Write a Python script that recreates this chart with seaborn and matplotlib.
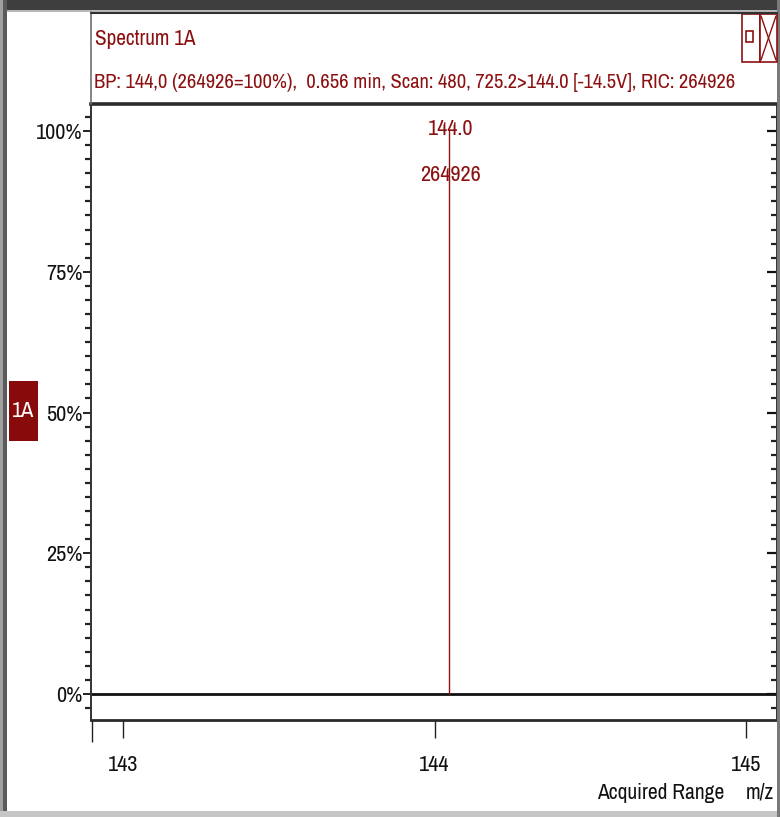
import matplotlib
matplotlib.use("Agg")
import matplotlib.pyplot as plt
from matplotlib import font_manager
from matplotlib.patches import Rectangle
from matplotlib.lines import Line2D
from matplotlib.ticker import FixedLocator, NullFormatter
import numpy as np
import pandas as pd
import seaborn as sns

# ---- data -------------------------------------------------------------
peak_mz = [144.048]
peak_counts = [264926]
x_ticks = [143, 144, 145]
y_major = [0, 25, 50, 75, 100]
y_tick_labels = ["0%", "25%", "50%", "75%", "100%"]
title_line = "Spectrum 1A"
info_line = ("BP: 144,0 (264926=100%),  0.656 min, Scan: 480, 725.2>144.0 "
             "[-14.5V], RIC: 264926")
trace_tag = "1A"
x_caption = "Acquired Range"
x_unit = "m/z"

# ---- style ------------------------------------------------------------
sns.set_theme(style="white")

# prefer a narrow/condensed face; otherwise shrink Liberation Sans
family, stretch, FS = "Liberation Sans", "normal", 12.4
for f in font_manager.fontManager.ttflist:
    nm = f.name
    st = str(f.stretch).lower()
    if "Narrow" in nm or "Condensed" in nm:
        family, stretch, FS = nm, "normal", 15
        break
    if "condensed" in st and nm in ("DejaVu Sans", "Liberation Sans", "Roboto",
                                    "Open Sans", "Noto Sans"):
        family, stretch, FS = nm, "condensed", 14
plt.rcParams["font.family"] = [family, "DejaVu Sans"]
plt.rcParams["font.stretch"] = stretch

RED = "#8c1010"
W, H = 780, 817
fig = plt.figure(figsize=(W / 100, H / 100), dpi=100)
fig.patch.set_facecolor("white")


def fx(px):
    return px / W


def fy(py):
    return 1 - py / H


# main plot area
ax = fig.add_axes([fx(91), fy(720), fx(777) - fx(91), fy(104) - fy(720)])
ax.set_facecolor("white")

base = max(peak_counts)
rows = []
for i, (mz, c) in enumerate(zip(peak_mz, peak_counts)):
    pct = 100.0 * c / base
    rows.append({"peak": i, "mz": mz, "pct": 0.0})
    rows.append({"peak": i, "mz": mz, "pct": pct})
df = pd.DataFrame(rows)
sns.lineplot(data=df, x="mz", y="pct", units="peak", estimator=None,
             sort=False, color=RED, lw=1.0, ax=ax, legend=False)

for mz, c in zip(peak_mz, peak_counts):
    pct = 100.0 * c / base
    ax.text(mz + 0.003, pct + 0.4, f"{mz:.1f}", ha="center", va="center",
            color=RED, fontsize=FS + 1)
    ax.text(mz + 0.002, pct - 7.8, f"{c}", ha="center", va="center",
            color=RED, fontsize=FS + 1)

# zero baseline
ax.axhline(0, color="#111111", lw=2.0, zorder=1)

ax.set_xlim(142.897, 145.0995)
ax.set_ylim(-4.62, 104.8)
ax.set_xlabel("")
ax.set_ylabel("")

# spines
for side, lw, col in [("top", 2.6, "#2a2a2a"), ("bottom", 2.0, "#2a2a2a"),
                      ("left", 1.4, "#333333"), ("right", 1.4, "#333333")]:
    ax.spines[side].set_visible(True)
    ax.spines[side].set_linewidth(lw)
    ax.spines[side].set_color(col)

# y ticks (left, outward)
ax.yaxis.set_major_locator(FixedLocator(y_major))
ax.set_yticklabels(y_tick_labels)
ax.yaxis.set_minor_locator(FixedLocator(np.arange(-2.5, 103, 2.5)))
ax.tick_params(axis="y", which="major", left=True, right=False, direction="out",
               length=6, width=1.4, color="#222222", pad=0, labelsize=FS + 1,
               labelcolor="#111111")
ax.tick_params(axis="y", which="minor", left=True, right=False, direction="out",
               length=4, width=1.6, color="#222222")

# x ticks (bottom, outward) plus the range-start marker
ax.xaxis.set_major_locator(FixedLocator(x_ticks))
ax.set_xticklabels([str(t) for t in x_ticks])
ax.xaxis.set_minor_locator(FixedLocator([142.9005]))
ax.xaxis.set_minor_formatter(NullFormatter())
ax.tick_params(axis="x", which="major", bottom=True, direction="out",
               length=13, width=1.0, color="#222222", pad=12, labelsize=FS + 1,
               labelcolor="#111111")
ax.tick_params(axis="x", which="minor", bottom=True, direction="out",
               length=16, width=1.0, color="#222222")

# y ticks on the right side (inward, unlabeled)
sec = ax.secondary_yaxis("right")
sec.yaxis.set_major_locator(FixedLocator(y_major))
sec.yaxis.set_minor_locator(FixedLocator(np.arange(-2.5, 103, 2.5)))
sec.yaxis.set_major_formatter(NullFormatter())
sec.yaxis.set_minor_formatter(NullFormatter())
sec.tick_params(axis="y", which="major", direction="in", length=7, width=1.6,
                color="#111111")
sec.tick_params(axis="y", which="minor", direction="in", length=4, width=1.6,
                color="#222222")
sec.spines["right"].set_visible(False)

# ---- window frame and header -----------------------------------------
def prect(x0, y0, x1, y1, **kw):
    fig.add_artist(Rectangle((fx(x0), fy(y1)), fx(x1) - fx(x0), fy(y0) - fy(y1),
                             transform=fig.transFigure, **kw))


def pline(xs, ys, **kw):
    fig.add_artist(Line2D([fx(v) for v in xs], [fy(v) for v in ys],
                          transform=fig.transFigure, **kw))


prect(0, 0, W, 10, facecolor="#3e3e3e", edgecolor="none")
prect(0, 10, W, 12, facecolor="#b8b8b8", edgecolor="none")
prect(0, 0, 3, H, facecolor="#a0a0a0", edgecolor="none")
prect(3, 0, 7, H, facecolor="#5a5a5a", edgecolor="none")
prect(0, 811, W, H, facecolor="#c6c6c6", edgecolor="none")
prect(777, 0, W, H, facecolor="#7a7a7a", edgecolor="none")
pline([91, 91], [12, 104], color="#707070", lw=1.2)
pline([91, 777], [13, 13], color="#303030", lw=1.5)

fig.text(fx(95), fy(39), title_line, ha="left", va="center", color=RED,
         fontsize=FS + 0.3)
fig.text(fx(94), fy(82), info_line, ha="left", va="center", color=RED,
         fontsize=FS * 0.983)

# window buttons
prect(742, 14, 760, 62, facecolor="white", edgecolor=RED, lw=1.2)
prect(760, 14, 777, 62, facecolor="white", edgecolor=RED, lw=1.2)
prect(746, 31, 753, 42, facecolor="white", edgecolor=RED, lw=1.2)
pline([761, 776], [16, 60], color=RED, lw=1.0)
pline([776, 761], [16, 60], color=RED, lw=1.0)

# trace tag
prect(9, 381, 38, 441, facecolor="#880a0a", edgecolor="none")
fig.text(fx(23.5), fy(411), trace_tag, ha="center", va="center",
         color="white", fontsize=FS + 1)

# axis captions
fig.text(fx(661), fy(793), x_caption, ha="center", va="center",
         color="#111111", fontsize=FS + 0.5)
fig.text(fx(760), fy(793), x_unit, ha="center", va="center",
         color="#111111", fontsize=FS + 0.5)

fig.savefig("out.png", dpi=100, facecolor="white")
